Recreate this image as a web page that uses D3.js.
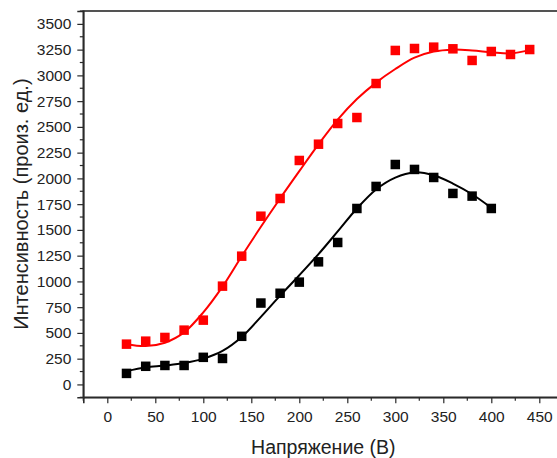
<!DOCTYPE html>
<html>
<head>
<meta charset="utf-8">
<script src="https://cdn.jsdelivr.net/npm/d3@7"></script>
<style>
  html, body { margin: 0; padding: 0; background: #fff; }
  svg { display: block; }
  text { font-family: Arial, "Liberation Sans", sans-serif; fill: #222; }
</style>
</head>
<body>
<svg id="chart" width="557" height="458"></svg>
<script>
// ---- Data ----
const redVoltage   = [20, 40, 60, 80, 100, 120, 140, 160, 180, 200, 220, 240, 260, 280, 300, 320, 340, 360, 380, 400, 420, 440];
const redValues    = [391, 420, 456, 527, 624, 954, 1245, 1633, 1805, 2174, 2332, 2533, 2591, 2921, 3242, 3261, 3274, 3258, 3145, 3232, 3203, 3251];
const redFit       = [391, 372, 405, 505, 700, 950, 1245, 1530, 1805, 2070, 2330, 2570, 2770, 2930, 3062, 3172, 3232, 3250, 3242, 3225, 3213, 3245];

const blackVoltage = [20, 40, 60, 80, 100, 120, 140, 160, 180, 200, 220, 240, 260, 280, 300, 320, 340, 360, 380, 400];
const blackValues  = [107, 176, 184, 184, 263, 252, 467, 790, 885, 993, 1190, 1378, 1708, 1922, 2135, 2087, 2009, 1854, 1828, 1708];
const blackFit     = [130, 165, 183, 207, 250, 325, 460, 656, 862, 1060, 1265, 1485, 1708, 1893, 2008, 2058, 2030, 1950, 1846, 1714];

const xTicks = [0, 50, 100, 150, 200, 250, 300, 350, 400, 450];
const yTicks = [0, 250, 500, 750, 1000, 1250, 1500, 1750, 2000, 2250, 2500, 2750, 3000, 3250, 3500];
const xLabel = "Напряжение (В)";
const yLabel = "Интенсивность (произ. ед.)";

// ---- Layout ----
const svg = d3.select("#chart");
const mLeft = 83.3, mRight = 563.3, mTop = 11, mBottom = 397.3;

const x = d3.scaleLinear().domain([-25, 475]).range([mLeft, mRight]);
const y = d3.scaleLinear().domain([-125, 3625]).range([mBottom, mTop]);

// frame
svg.append("rect")
  .attr("x", mLeft).attr("y", mTop)
  .attr("width", mRight - mLeft).attr("height", mBottom - mTop)
  .attr("fill", "none").attr("stroke", "#2a2a2a").attr("stroke-width", 1.6);

// x axis
const xAxis = d3.axisBottom(x).tickValues(xTicks).tickSize(6).tickPadding(8).tickFormat(d3.format("d"));
const gx = svg.append("g").attr("transform", `translate(0,${mBottom})`).call(xAxis);
const xMinor = d3.range(-25, 476, 50);
gx.selectAll(".minor").data(xMinor).enter().append("line")
  .attr("class", "minor").attr("x1", d => x(d)).attr("x2", d => x(d))
  .attr("y1", 0).attr("y2", 3.5).attr("stroke", "#2a2a2a").attr("stroke-width", 1.2);

// y axis
const yAxis = d3.axisLeft(y).tickValues(yTicks).tickSize(6).tickPadding(6).tickFormat(d3.format("d"));
const gy = svg.append("g").attr("transform", `translate(${mLeft},0)`).call(yAxis);
const yMinor = d3.range(-125, 3626, 250);
gy.selectAll(".minor").data(yMinor).enter().append("line")
  .attr("class", "minor").attr("y1", d => y(d)).attr("y2", d => y(d))
  .attr("x1", 0).attr("x2", -3.5).attr("stroke", "#2a2a2a").attr("stroke-width", 1.2);

[gx, gy].forEach(g => {
  g.select(".domain").attr("stroke", "#2a2a2a").attr("stroke-width", 1.6);
  g.selectAll(".tick line").attr("stroke", "#2a2a2a").attr("stroke-width", 1.2);
  g.selectAll(".tick text").attr("font-size", 15.5).attr("fill", "#1a1a1a")
    .attr("font-family", "Arial, 'Liberation Sans', sans-serif");
});

// fit curves
const line = d3.line().x(d => x(d[0])).y(d => y(d[1])).curve(d3.curveCatmullRom.alpha(0.5));
svg.append("path").datum(redVoltage.map((v, i) => [v, redFit[i]]))
  .attr("d", line).attr("fill", "none").attr("stroke", "#ff0000").attr("stroke-width", 2);
svg.append("path").datum(blackVoltage.map((v, i) => [v, blackFit[i]]))
  .attr("d", line).attr("fill", "none").attr("stroke", "#000").attr("stroke-width", 2);

// markers
const s = 9.5;
svg.append("g").selectAll("rect").data(redVoltage.map((v, i) => [v, redValues[i]])).enter()
  .append("rect").attr("x", d => x(d[0]) - s / 2).attr("y", d => y(d[1]) - s / 2)
  .attr("width", s).attr("height", s).attr("fill", "#ff0000");
svg.append("g").selectAll("rect").data(blackVoltage.map((v, i) => [v, blackValues[i]])).enter()
  .append("rect").attr("x", d => x(d[0]) - s / 2).attr("y", d => y(d[1]) - s / 2)
  .attr("width", s).attr("height", s).attr("fill", "#000");

// axis labels
svg.append("text").attr("x", (mLeft + mRight) / 2).attr("y", 454)
  .attr("text-anchor", "middle").attr("font-size", 19.5).text(xLabel);
svg.append("text").attr("transform", `translate(27.5,${(mTop + mBottom) / 2}) rotate(-90)`)
  .attr("text-anchor", "middle").attr("font-size", 20).text(yLabel);
</script>
</body>
</html>
